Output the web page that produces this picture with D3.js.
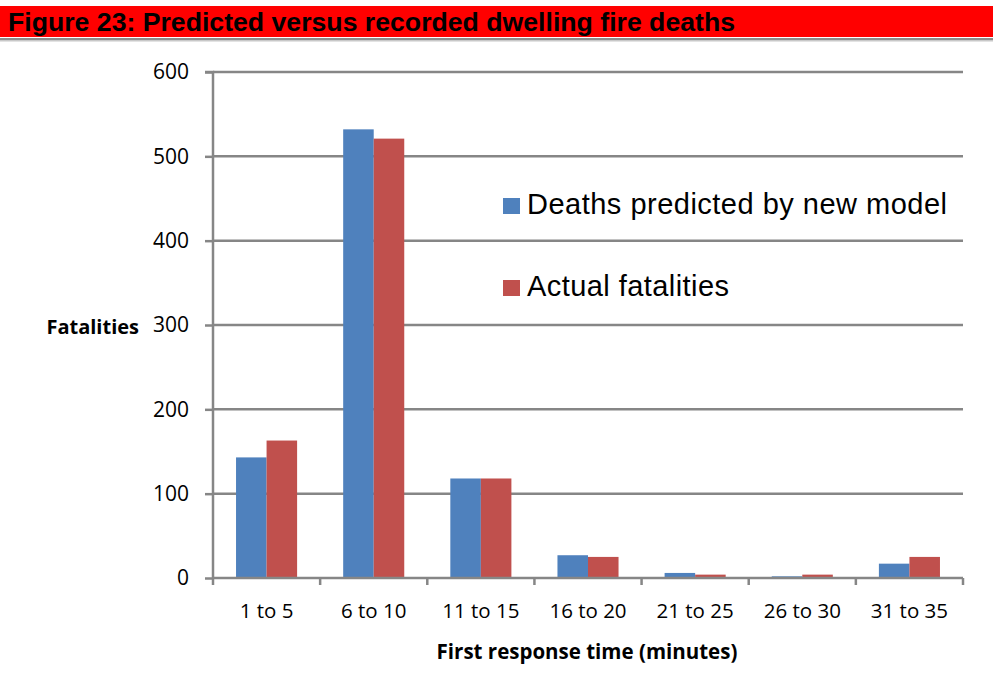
<!DOCTYPE html>
<html><head><meta charset="utf-8">
<script src="https://cdn.jsdelivr.net/npm/d3@7"></script>
<style>body{margin:0;background:#fff}svg{display:block}</style>
</head><body>
<script>
const categories = ["1 to 5","6 to 10","11 to 15","16 to 20","21 to 25","26 to 30","31 to 35"];
const predicted = [143, 532, 118, 27, 6, 2, 17];
const actual = [163, 521, 118, 25, 4, 4, 25];
const seriesNames = ["Deaths predicted by new model","Actual fatalities"];
const yTicks = [0,100,200,300,400,500,600];

const W = 993, H = 684;
const svg = d3.select("body").append("svg").attr("width", W).attr("height", H);

// title band
svg.append("rect").attr("x",0).attr("y",6).attr("width",993).attr("height",31).attr("fill","#ff0000");
svg.append("rect").attr("x",0).attr("y",38).attr("width",993).attr("height",2).attr("fill","#8c8c8c");
svg.append("rect").attr("x",0).attr("y",40).attr("width",993).attr("height",1.5).attr("fill","#c8c8c8");
svg.append("text").attr("x",8).attr("y",31)
  .attr("font-family","Liberation Sans Narrow, Liberation Sans, Arial, sans-serif").attr("font-weight","bold")
  .attr("font-size",25).attr("textLength",727).attr("lengthAdjust","spacingAndGlyphs")
  .attr("fill","#000").text("Figure 23: Predicted versus recorded dwelling fire deaths");

const x0 = 213, x1 = 963, yTop = 72, yBot = 578;
const x = d3.scaleBand().domain(categories).range([x0, x1]).paddingInner(0.43).paddingOuter(0.215);
const xs = d3.scaleBand().domain([0,1]).range([0, x.bandwidth()]);
const y = d3.scaleLinear().domain([0,600]).range([yBot, yTop]);
const grid = "#868686";
const font = "Open Sans, sans-serif";

// gridlines
svg.append("g").selectAll("line").data(yTicks.filter(d=>d>0)).join("line")
  .attr("x1", x0).attr("x2", x1).attr("y1", d=>y(d)).attr("y2", d=>y(d))
  .attr("stroke", grid).attr("stroke-width", 2.5);

// bars
const colors = ["#4f81bd","#c0504d"];
[predicted, actual].forEach((vals, s) => {
  svg.append("g").selectAll("rect").data(vals).join("rect")
    .attr("x", (d,i)=>x(categories[i]) + xs(s))
    .attr("width", xs.bandwidth())
    .attr("y", d=>y(d)).attr("height", d=>yBot - y(d))
    .attr("fill", colors[s]);
});

// y axis
const yAxis = d3.axisLeft(y).tickValues(yTicks).tickSize(8).tickPadding(16);
const gy = svg.append("g").attr("transform",`translate(${x0},0)`).call(yAxis);
gy.select(".domain").attr("stroke", grid).attr("stroke-width", 2.5).attr("d", `M-8,${yTop}H0V${yBot}`);
gy.selectAll(".tick line").attr("stroke", grid).attr("stroke-width", 2.5);
gy.selectAll(".tick text").attr("font-family", font).attr("font-size", 21).attr("fill","#000");

// x axis
const xAxis = d3.axisBottom(x).tickSize(0).tickPadding(25);
const gx = svg.append("g").attr("transform",`translate(0,${yBot})`).call(xAxis);
gx.select(".domain").attr("stroke", grid).attr("stroke-width", 2.5).attr("d", `M${x0},0H${x1}`);
gx.selectAll(".tick text").attr("font-family", font).attr("font-size", 20.5).attr("fill","#000");
// boundary tick marks between categories
const bounds = d3.range(categories.length + 1).map(i => x0 + i * x.step());
svg.append("g").selectAll("line").data(bounds).join("line")
  .attr("x1", d=>d).attr("x2", d=>d).attr("y1", yBot).attr("y2", yBot+7)
  .attr("stroke", grid).attr("stroke-width", 2.5);

// axis titles
svg.append("text").attr("x", 587).attr("y", 659).attr("text-anchor","middle")
  .attr("font-family", font).attr("font-weight","bold").attr("font-size", 20.5).attr("fill","#000")
  .text("First response time (minutes)");
svg.append("text").attr("x", 139).attr("y", 334).attr("text-anchor","end")
  .attr("font-family", font).attr("font-weight","bold").attr("font-size", 20).attr("fill","#000")
  .text("Fatalities");

// legend
const legLens = [420, 202];
const leg = svg.append("g");
seriesNames.forEach((n, i) => {
  const ly = [214, 296][i];
  leg.append("rect").attr("x", 503).attr("y", ly - 16).attr("width", 17).attr("height", 16).attr("fill", colors[i]);
  leg.append("text").attr("x", 527).attr("y", ly)
    .attr("font-family","Liberation Sans, Arial, sans-serif").attr("font-size", 29).attr("fill","#000")
    .attr("textLength", legLens[i]).attr("lengthAdjust","spacing")
    .text(n);
});
</script>
</body></html>
